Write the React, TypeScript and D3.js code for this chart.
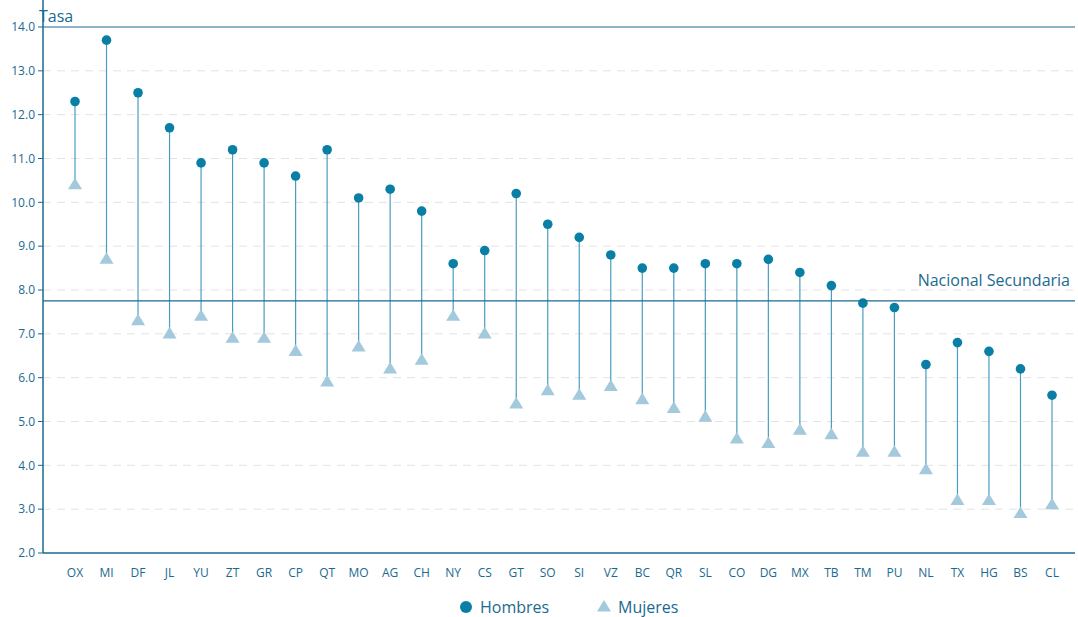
import React from "react";
import * as d3 from "d3";

const categories = ["OX","MI","DF","JL","YU","ZT","GR","CP","QT","MO","AG","CH","NY","CS","GT","SO","SI","VZ","BC","QR","SL","CO","DG","MX","TB","TM","PU","NL","TX","HG","BS","CL"];
const hombres = [12.3,13.7,12.5,11.7,10.9,11.2,10.9,10.6,11.2,10.1,10.3,9.8,8.6,8.9,10.2,9.5,9.2,8.8,8.5,8.5,8.6,8.6,8.7,8.4,8.1,7.7,7.6,6.3,6.8,6.6,6.2,5.6];
const mujeres = [10.4,8.7,7.3,7.0,7.4,6.9,6.9,6.6,5.9,6.7,6.2,6.4,7.4,7.0,5.4,5.7,5.6,5.8,5.5,5.3,5.1,4.6,4.5,4.8,4.7,4.3,4.3,3.9,3.2,3.2,2.9,3.1];
const nacional = 7.75;
const yTicks = [2,3,4,5,6,7,8,9,10,11,12,13,14];

export default function App() {
  const W = 1078, H = 617, L = 43, R = 1075, T = 27, B = 553;
  const x = d3.scalePoint<string>().domain(categories).range([75, 1052]);
  const y = d3.scaleLinear().domain([2, 14]).range([B, T]);
  const dark = "#1a6a8f", teal = "#0a7fa6", tri = "#a3c9dc";
  const font = "'Open Sans', sans-serif";
  const tp = (cx: number, cy: number) => {
    const s = 7;
    return `M${cx},${cy - s}L${cx + s},${cy + s * 0.65}L${cx - s},${cy + s * 0.65}Z`;
  };
  return (
    <svg width={W} height={H} style={{ position: "absolute", left: 0, top: 0 }} fontFamily={font}>
      {yTicks.map(t => (
        <g key={t}>
          {t > 2 && t < 14 && <line x1={L} x2={R} y1={y(t)} y2={y(t)} stroke="#e2e2e2" strokeDasharray="8,6" />}
          <line x1={L - 5} x2={L} y1={y(t)} y2={y(t)} stroke={dark} />
          <text x={L - 8} y={y(t)} dy="0.35em" textAnchor="end" fontSize={12} fill={dark}>{t.toFixed(1)}</text>
        </g>
      ))}
      <line x1={L} x2={R} y1={T} y2={T} stroke={dark} strokeWidth={1.2} />
      <line x1={L} x2={L} y1={0} y2={B} stroke={dark} strokeWidth={1.5} />
      <line x1={L} x2={R} y1={B} y2={B} stroke={dark} strokeWidth={1.5} />
      <text x={L - 4} y={22} fontSize={16} fill={dark}>Tasa</text>
      {categories.map((c, i) => {
        const cx = x(c)!;
        return (
          <g key={c}>
            <line x1={cx} x2={cx} y1={y(hombres[i])} y2={y(mujeres[i])} stroke="#4a9cc0" strokeWidth={1.2} />
            <path d={tp(cx, y(mujeres[i]))} fill={tri} />
            <circle cx={cx} cy={y(hombres[i])} r={4.8} fill={teal} />
            <text x={cx} y={577} textAnchor="middle" fontSize={12} fill={dark}>{c}</text>
          </g>
        );
      })}
      <line x1={L} x2={R} y1={y(nacional)} y2={y(nacional)} stroke={dark} strokeWidth={1.3} />
      <text x={1070} y={y(nacional) - 15} textAnchor="end" fontSize={16} fill={dark}>Nacional Secundaria</text>
      <circle cx={466} cy={607} r={6} fill={teal} />
      <text x={480} y={613} fontSize={16} fill={dark}>Hombres</text>
      <path d={tp(604, 607)} fill={tri} />
      <text x={618} y={613} fontSize={16} fill={dark}>Mujeres</text>
    </svg>
  );
}
